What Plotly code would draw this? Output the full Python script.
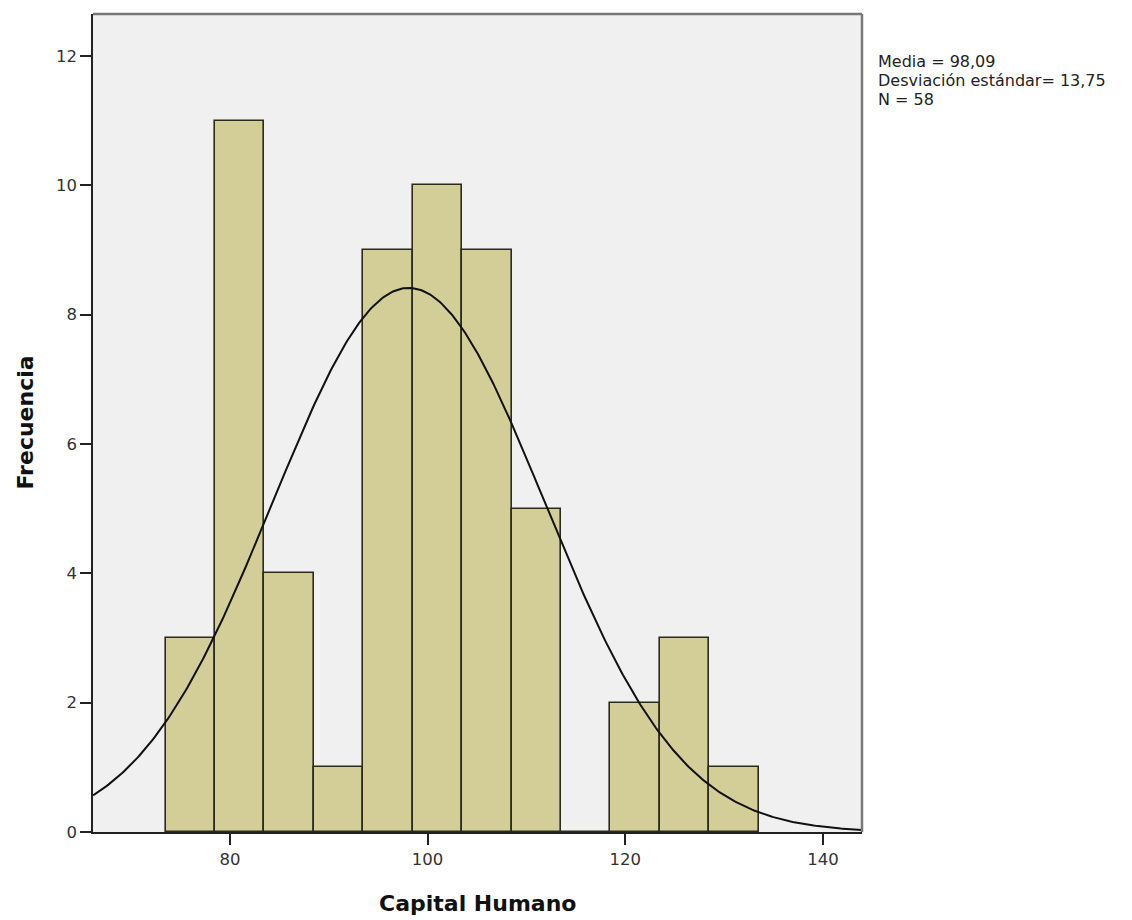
import numpy as np
import plotly.graph_objects as go

# Data
bin_centers = [76, 81, 86, 91, 96, 101, 106, 111, 116, 121, 126, 131]
counts = [3, 11, 4, 1, 9, 10, 9, 5, 0, 2, 3, 1]
bin_width = 5
mean = 98.09
std = 13.75
n = 58
x_ticks = [80, 100, 120, 140]
y_ticks = [0, 2, 4, 6, 8, 10, 12]
stats_lines = ["Media = 98,09", "Desviación estándar= 13,75", "N = 58"]

x_range = [66.15, 143.95]
y_range = [0, 12.65]

# Normal curve from the stated statistics
xs = np.linspace(x_range[0], x_range[1], 400)
ys = n * bin_width * np.exp(-0.5 * ((xs - mean) / std) ** 2) / (std * np.sqrt(2 * np.pi))

fig = go.Figure()
fig.add_trace(go.Bar(
    x=bin_centers, y=counts, width=[bin_width] * len(counts),
    marker=dict(color="#D3CE97", line=dict(color="#2a2a1f", width=1.6)),
    showlegend=False, hoverinfo="x+y",
))
fig.add_trace(go.Scatter(
    x=xs, y=ys, mode="lines", line=dict(color="#111111", width=2),
    showlegend=False, hoverinfo="skip",
))

font_family = "DejaVu Sans, Arial, sans-serif"
annotations = [
    dict(xref="paper", yref="paper", x=1.018, y=yy, xanchor="left", yanchor="middle",
         align="left", showarrow=False, text=t,
         font=dict(size=16, color="#222", family=font_family))
    for t, yy in zip(stats_lines, [0.9425, 0.919, 0.8955])
]
annotations.append(dict(xref="paper", yref="paper", x=0.5, y=-0.087,
                        xanchor="center", yanchor="middle", showarrow=False,
                        text="<b>Capital Humano</b>",
                        font=dict(size=22, color="#111", family=font_family)))
annotations.append(dict(xref="paper", yref="paper", x=-0.088, y=0.501,
                        xanchor="center", yanchor="middle", showarrow=False,
                        textangle=-90, text="<b>Frecuencia</b>",
                        font=dict(size=22, color="#111", family=font_family)))

fig.update_layout(
    width=1124, height=912,
    margin=dict(l=85, r=270, t=6, b=88),
    paper_bgcolor="white", plot_bgcolor="#F0F0F0",
    bargap=0,
    font=dict(family=font_family, size=16, color="#222222"),
    xaxis=dict(
        range=x_range, tickvals=x_ticks, ticks="outside", ticklen=11,
        tickcolor="#222", tickwidth=1.5, showgrid=False, zeroline=False,
        showline=True, linecolor="#222", linewidth=1.5, mirror=False,
        tickfont=dict(size=16.5, color="#333"),
    ),
    yaxis=dict(
        range=y_range, tickvals=y_ticks, ticks="outside", ticklen=11,
        tickcolor="#222", tickwidth=1.5, showgrid=False, zeroline=False,
        showline=True, linecolor="#222", linewidth=1.5,
        tickfont=dict(size=16.5, color="#333"),
    ),
    shapes=[
        dict(type="line", xref="paper", yref="paper", x0=0, x1=1, y0=1, y1=1,
             line=dict(color="#777777", width=2.5)),
        dict(type="line", xref="paper", yref="paper", x0=1, x1=1, y0=0, y1=1,
             line=dict(color="#777777", width=2.5)),
    ],
    annotations=annotations,
)

fig.write_html("out.html")
